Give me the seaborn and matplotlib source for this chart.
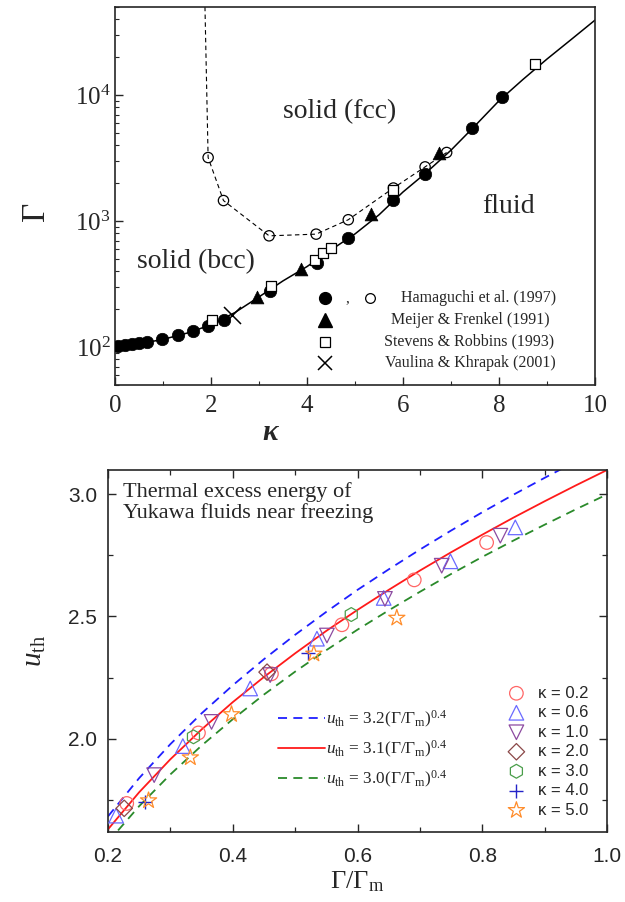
import numpy as np
import pandas as pd
import matplotlib
matplotlib.use("Agg")
import matplotlib.pyplot as plt
import seaborn as sns
from matplotlib.lines import Line2D
from matplotlib.ticker import MultipleLocator, LogLocator, FuncFormatter, NullFormatter

# =========================
# TOP PANEL DATA (kappa, Gamma)
# =========================
hama_fluid_kappa = [0.06, 0.21, 0.35, 0.50, 0.67, 0.98, 1.31, 1.63, 1.94, 2.27,
                    3.23, 4.20, 4.86, 5.80, 6.46, 7.43, 8.06]
hama_fluid_gamma = [102, 104, 105, 107, 109, 115, 125, 134, 147, 164,
                    277, 468, 727, 1480, 2380, 5450, 9640]

hama_solid_kappa = [1.94, 2.26, 3.21, 4.19, 4.86, 5.80, 6.46, 6.91]
hama_solid_gamma = [3190, 1454, 763, 787, 1024, 1828, 2690, 3500]

# dashed bcc-fcc guide (runs off the top of the frame)
bcc_fcc_kappa = [1.87, 1.94, 2.26, 3.21, 4.19, 4.86, 5.80, 6.46, 6.91]
bcc_fcc_gamma = [60000, 3190, 1454, 763, 787, 1024, 1828, 2690, 3500]

meijer_kappa = [2.95, 3.87, 5.33, 6.75]
meijer_gamma = [248, 418, 1138, 3435]

stevens_kappa = [2.03, 3.24, 4.17, 4.34, 4.51, 5.80, 8.75]
stevens_gamma = [163, 303, 490, 555, 616, 1750, 17500]

vaulina_kappa = [2.43]
vaulina_gamma = [180]

melting_kappa = [0, 0.5, 1, 1.5, 2, 2.5, 3, 3.5, 4, 4.5, 5, 5.5, 6, 6.5, 7,
                 7.5, 8, 8.5, 9, 9.5, 10]
melting_gamma = [101, 106, 115, 129, 150, 188, 250, 335, 435, 590, 790, 1120,
                 1700, 2450, 3650, 5700, 9000, 13300, 19300, 27500, 39300]

# =========================
# BOTTOM PANEL DATA (Gamma/Gamma_m, u_th)
# =========================
k02_x = [0.230, 0.345, 0.462, 0.575, 0.691, 0.807]
k02_y = [1.734, 2.023, 2.265, 2.466, 2.650, 2.803]
k06_x = [0.213, 0.320, 0.428, 0.535, 0.642, 0.749, 0.853]
k06_y = [1.684, 1.969, 2.205, 2.409, 2.576, 2.726, 2.865]
k10_x = [0.274, 0.366, 0.460, 0.551, 0.644, 0.735, 0.829]
k10_y = [1.850, 2.068, 2.260, 2.422, 2.572, 2.708, 2.831]
k20_x = [0.226, 0.455]
k20_y = [1.714, 2.272]
k30_x = [0.337, 0.590]
k30_y = [2.007, 2.508]
k40_x = [0.259, 0.520]
k40_y = [1.738, 2.352]
k50_x = [0.265, 0.332, 0.398, 0.530, 0.663]
k50_y = [1.746, 1.922, 2.099, 2.347, 2.494]

fit_x = [0.20, 0.25, 0.30, 0.35, 0.40, 0.45, 0.50, 0.55, 0.60, 0.65, 0.70,
         0.75, 0.80, 0.85, 0.90, 0.95, 1.00]
fit32_y = [1.681, 1.838, 1.977, 2.103, 2.218, 2.325, 2.425, 2.519, 2.609,
           2.693, 2.774, 2.852, 2.927, 2.999, 3.068, 3.135, 3.200]
fit31_y = [1.628, 1.780, 1.915, 2.037, 2.149, 2.252, 2.349, 2.441, 2.527,
           2.609, 2.688, 2.763, 2.835, 2.905, 2.972, 3.037, 3.100]
fit30_y = [1.576, 1.723, 1.853, 1.971, 2.079, 2.180, 2.274, 2.362, 2.446,
           2.525, 2.601, 2.674, 2.744, 2.811, 2.876, 2.939, 3.000]

# =========================
# STYLE
# =========================
sns.set_style("ticks")
plt.rcParams["font.family"] = ["Liberation Serif", "DejaVu Serif"]
plt.rcParams["mathtext.fontset"] = "custom"
plt.rcParams["mathtext.rm"] = "Liberation Serif"
plt.rcParams["mathtext.it"] = "Liberation Serif:italic"
plt.rcParams["mathtext.bf"] = "Liberation Serif:bold"
plt.rcParams["xtick.direction"] = "in"
plt.rcParams["ytick.direction"] = "in"
plt.rcParams["axes.linewidth"] = 1.2

fig = plt.figure(figsize=(6.25, 9.02), dpi=100)
fig.patch.set_facecolor("white")

# =========================
# TOP PANEL
# =========================
ax1 = fig.add_axes([0.184, 0.5732, 0.768, 0.4191])
ax1.set_yscale("log")

sns.lineplot(x=melting_kappa, y=melting_gamma, color="black", linewidth=1.1,
             estimator=None, sort=False, ax=ax1)
sns.lineplot(x=bcc_fcc_kappa, y=bcc_fcc_gamma, color="black", linewidth=0.8,
             linestyle=(0, (4, 3)), estimator=None, sort=False, ax=ax1)

sns.scatterplot(x=hama_fluid_kappa, y=hama_fluid_gamma, marker="o", s=80,
                color="black", edgecolor="black", linewidth=0.5, zorder=3, ax=ax1)
sns.scatterplot(x=hama_solid_kappa, y=hama_solid_gamma, marker="o", s=55,
                facecolors="none", edgecolor="black", linewidth=0.9, zorder=4, ax=ax1)
sns.scatterplot(x=meijer_kappa, y=meijer_gamma, marker="^", s=85,
                color="black", edgecolor="black", linewidth=0.5, zorder=3, ax=ax1)
sns.scatterplot(x=stevens_kappa, y=stevens_gamma, marker="s", s=55,
                facecolors="white", edgecolor="black", linewidth=0.9, zorder=4, ax=ax1)
sns.scatterplot(x=vaulina_kappa, y=vaulina_gamma, marker="x", s=150,
                color="black", linewidth=1.1, zorder=4, ax=ax1)

ax1.set_xlim(0, 10)
ax1.set_ylim(50, 50000)
ax1.xaxis.set_major_locator(MultipleLocator(2))
ax1.xaxis.set_minor_locator(MultipleLocator(1))
ax1.yaxis.set_major_locator(LogLocator(base=10, numticks=10))
ax1.yaxis.set_minor_locator(LogLocator(base=10, subs=np.arange(2, 10), numticks=20))
ax1.yaxis.set_minor_formatter(NullFormatter())
ax1.yaxis.set_major_formatter(FuncFormatter(
    lambda v, p: r"$\mathregular{10^{%d}}$" % round(np.log10(v))))
ax1.tick_params(axis="both", which="major", length=6, width=1.0, labelsize=18)
ax1.tick_params(axis="x", which="major", pad=7)
ax1.tick_params(axis="y", which="major", pad=3)
ax1.tick_params(axis="both", which="minor", length=3, width=0.8)

ax1.set_xlabel("κ", fontsize=21, fontweight="bold", fontstyle="italic")
ax1.xaxis.set_label_coords(0.323, -0.09)
ax1.set_ylabel("Γ", fontsize=24)
ax1.yaxis.set_label_coords(-0.133, 0.46)

ax1.text(4.69, 7450, "solid (fcc)", fontsize=20, ha="center", va="center")
ax1.text(8.2, 1295, "fluid", fontsize=20, ha="center", va="center")
ax1.text(1.69, 479, "solid (bcc)", fontsize=20, ha="center", va="center")

# hand-built key, as in the original figure
key_rows = [0.2294, 0.172, 0.1146, 0.0574]
key_text = ["Hamaguchi et al. (1997)", "Meijer & Frenkel (1991)",
            "Stevens & Robbins (1993)", "Vaulina & Khrapak (2001)"]
key_center = [0.7573, 0.7406, 0.7375, 0.7396]
tr = ax1.transAxes
ax1.plot([0.4375], [key_rows[0]], "o", ms=8.5, color="black", transform=tr, clip_on=False)
ax1.text(0.485, key_rows[0], ",", fontsize=11, ha="center", va="center", transform=tr)
ax1.plot([0.531], [key_rows[0]], "o", ms=7, mfc="none", mec="black", mew=0.9,
         transform=tr, clip_on=False)
ax1.plot([0.4375], [key_rows[1]], "^", ms=9.5, color="black", transform=tr, clip_on=False)
ax1.plot([0.4375], [key_rows[2]], "s", ms=7.5, mfc="white", mec="black", mew=0.9,
         transform=tr, clip_on=False)
ax1.plot([0.4375], [key_rows[3]], "x", ms=10.5, color="black", mew=1.1,
         transform=tr, clip_on=False)
for yy, tt, cx in zip(key_rows, key_text, key_center):
    ax1.text(cx, yy, tt, fontsize=11.5, ha="center", va="center", transform=tr)

# =========================
# BOTTOM PANEL
# =========================
ax2 = fig.add_axes([0.1728, 0.0776, 0.7984, 0.4013])

sns.lineplot(x=fit_x, y=fit32_y, color="#1f1fff", linewidth=1.3,
             linestyle=(0, (5, 3.5)), estimator=None, sort=False, ax=ax2)
sns.lineplot(x=fit_x, y=fit31_y, color="#ff1a1a", linewidth=1.3,
             estimator=None, sort=False, ax=ax2)
sns.lineplot(x=fit_x, y=fit30_y, color="#2a8a2a", linewidth=1.3,
             linestyle=(0, (5, 3.5)), estimator=None, sort=False, ax=ax2)
fit_lines = ax2.get_lines()[:3]

series = [
    (k02_x, k02_y, "o", "#ff6666", 95, "κ = 0.2"),
    (k06_x, k06_y, "^", "#6a6aff", 110, "κ = 0.6"),
    (k10_x, k10_y, "v", "#8c4aa0", 110, "κ = 1.0"),
    (k20_x, k20_y, "D", "#8b4848", 70, "κ = 2.0"),
    (k30_x, k30_y, "h", "#4a9e4a", 100, "κ = 3.0"),
    (k40_x, k40_y, "+", "#2323c8", 110, "κ = 4.0"),
    (k50_x, k50_y, "*", "#ff8c2a", 150, "κ = 5.0"),
]
for xs, ys, mk, col, sz, lab in series:
    if mk == "+":
        sns.scatterplot(x=xs, y=ys, marker=mk, s=sz, color=col, linewidth=1.0,
                        zorder=3, label=lab, ax=ax2)
    else:
        sns.scatterplot(x=xs, y=ys, marker=mk, s=sz, facecolors="none",
                        edgecolor=col, linewidth=0.9, zorder=3, label=lab, ax=ax2)

ax2.set_xlim(0.2, 1.0)
ax2.set_ylim(1.617, 3.1)
ax2.xaxis.set_major_locator(MultipleLocator(0.2))
ax2.xaxis.set_minor_locator(MultipleLocator(0.1))
ax2.yaxis.set_major_locator(MultipleLocator(0.5))
ax2.yaxis.set_minor_locator(MultipleLocator(0.25))
ax2.xaxis.set_major_formatter(FuncFormatter(lambda v, p: "%.1f" % v))
ax2.yaxis.set_major_formatter(FuncFormatter(lambda v, p: "%.1f" % v))
ax2.tick_params(axis="both", which="both", top=True, right=True)
ax2.tick_params(axis="both", which="major", length=6, width=1.0, labelsize=15)
ax2.tick_params(axis="x", which="major", pad=11)
ax2.tick_params(axis="y", which="major", pad=8)
ax2.tick_params(axis="both", which="minor", length=3.5, width=0.9)
for lab in ax2.get_xticklabels() + ax2.get_yticklabels():
    lab.set_fontfamily("Liberation Sans")

ax2.set_xlabel(r"Γ/Γ$_{\rm m}$", fontsize=19, labelpad=2)
ax2.set_ylabel(r"$u_{\rm th}$", fontsize=21, labelpad=14)

ax2.text(0.03, 0.967, "Thermal excess energy of\nYukawa fluids near freezing",
         fontsize=16, ha="left", va="top", linespacing=1.1, transform=ax2.transAxes)

handles, labels = ax2.get_legend_handles_labels()
kappa_leg = ax2.legend(handles[-7:], labels[-7:], loc="center left",
                       bbox_to_anchor=(0.775, 0.222), frameon=False,
                       prop={"family": "Liberation Sans", "size": 12},
                       handletextpad=0.7, labelspacing=0.27, borderpad=0.2,
                       handlelength=1.2, markerscale=1.0)
ax2.add_artist(kappa_leg)

fit_labels = [r"$u_{\rm th}$ = 3.2(Γ/Γ$_{\rm m}$)$^{0.4}$",
              r"$u_{\rm th}$ = 3.1(Γ/Γ$_{\rm m}$)$^{0.4}$",
              r"$u_{\rm th}$ = 3.0(Γ/Γ$_{\rm m}$)$^{0.4}$"]
fit_handles = [Line2D([], [], color=l.get_color(), linewidth=1.3,
                      linestyle=l.get_linestyle()) for l in fit_lines]
fit_handles[0].set_dashes((5, 3.5))
fit_handles[2].set_dashes((5, 3.5))
ax2.legend(fit_handles, fit_labels, loc="center left",
           bbox_to_anchor=(0.317, 0.228), frameon=False, fontsize=12.4,
           handlelength=2.7, handletextpad=0.1, labelspacing=0.52, borderpad=0.2)

plt.savefig("out.png", dpi=100)
